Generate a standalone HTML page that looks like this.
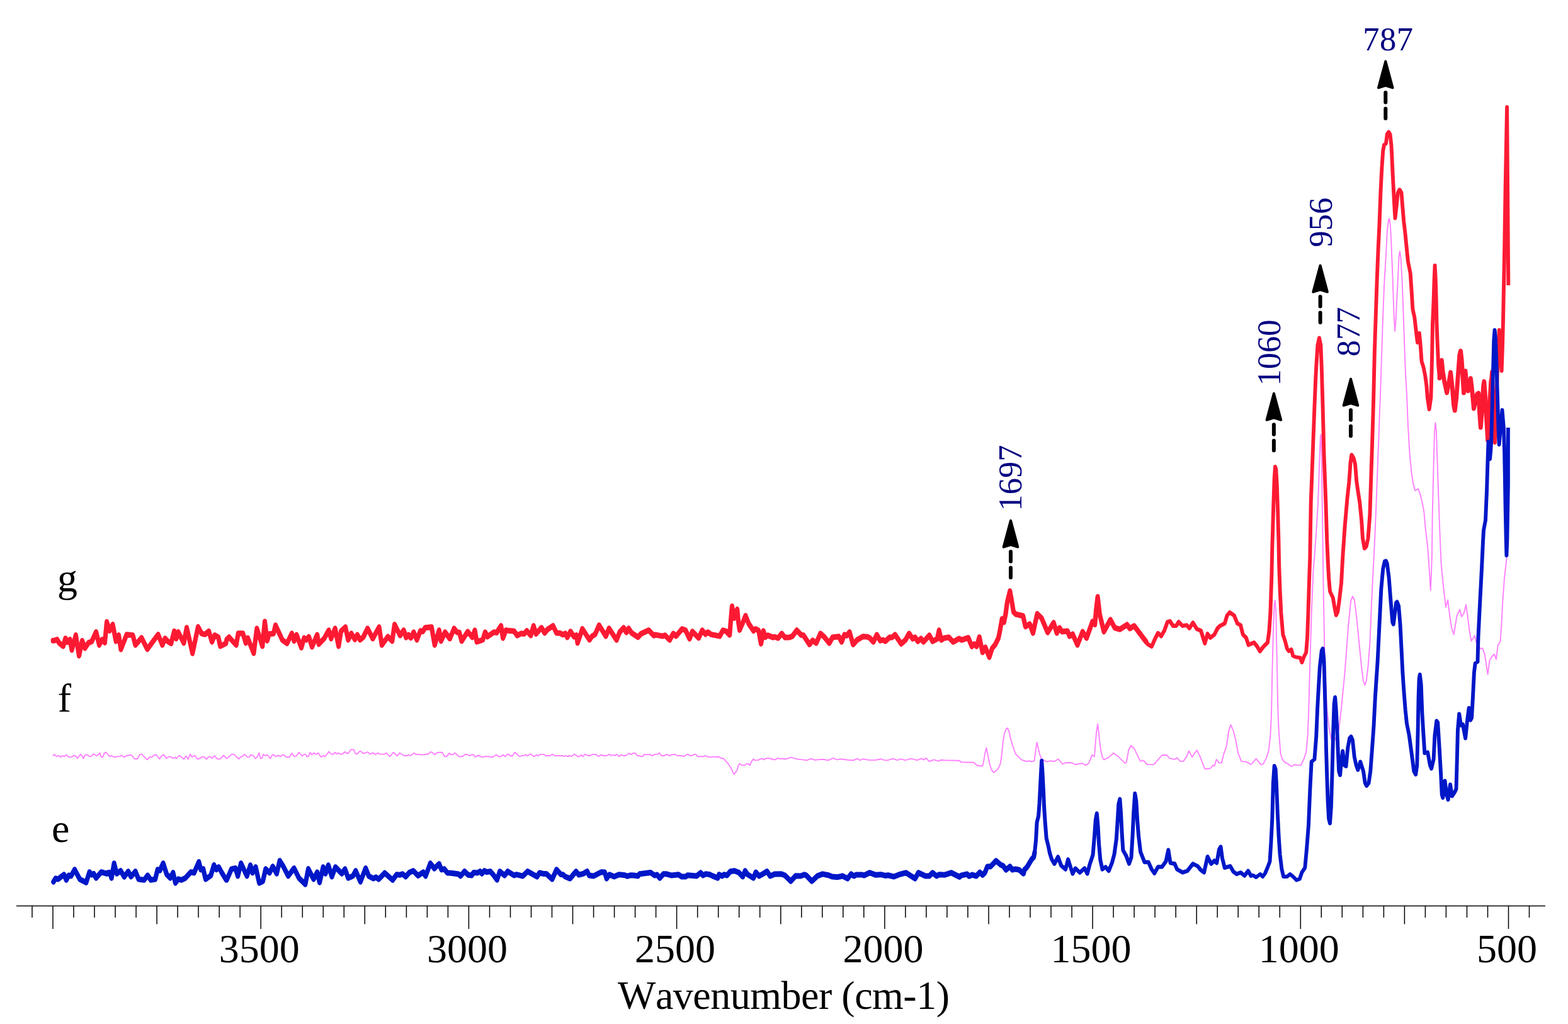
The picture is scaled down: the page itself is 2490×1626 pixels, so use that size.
<!DOCTYPE html>
<html lang="en">
<head>
<meta charset="utf-8">
<title>Wavenumber spectra e, f, g</title>
<style>
html,body{margin:0;padding:0;background:#fff;}
body{width:2490px;height:1626px;overflow:hidden;}
svg{display:block;}
text{font-family:"Liberation Serif","DejaVu Serif",serif;font-kerning:none;}
.t{font-size:64px;fill:#000;}
.n{font-size:52.5px;fill:#000080;}
.c{fill:none;stroke-linejoin:round;}
</style>
</head>
<body>
<svg width="2490" height="1626" viewBox="0 0 2490 1626">
<rect width="2490" height="1626" fill="#fff"/>
<line x1="26" y1="1438.5" x2="2454" y2="1438.5" stroke="#000" stroke-width="1.3"/>
<path d="M51.0 1438.5v18.5M84.0 1438.5v36.5M117.0 1438.5v18.5M150.0 1438.5v18.5M183.1 1438.5v18.5M216.1 1438.5v18.5M249.1 1438.5v29.0M282.1 1438.5v18.5M315.1 1438.5v18.5M348.2 1438.5v18.5M381.2 1438.5v18.5M414.2 1438.5v36.5M447.2 1438.5v18.5M480.3 1438.5v18.5M513.3 1438.5v18.5M546.3 1438.5v18.5M579.3 1438.5v29.0M612.3 1438.5v18.5M645.4 1438.5v18.5M678.4 1438.5v18.5M711.4 1438.5v18.5M744.4 1438.5v36.5M777.5 1438.5v18.5M810.5 1438.5v18.5M843.5 1438.5v18.5M876.5 1438.5v18.5M909.5 1438.5v29.0M942.6 1438.5v18.5M975.6 1438.5v18.5M1008.6 1438.5v18.5M1041.6 1438.5v18.5M1074.6 1438.5v36.5M1107.7 1438.5v18.5M1140.7 1438.5v18.5M1173.7 1438.5v18.5M1206.7 1438.5v18.5M1239.8 1438.5v29.0M1272.8 1438.5v18.5M1305.8 1438.5v18.5M1338.8 1438.5v18.5M1371.8 1438.5v18.5M1404.9 1438.5v36.5M1437.9 1438.5v18.5M1470.9 1438.5v18.5M1503.9 1438.5v18.5M1536.9 1438.5v18.5M1570.0 1438.5v29.0M1603.0 1438.5v18.5M1636.0 1438.5v18.5M1669.0 1438.5v18.5M1702.1 1438.5v18.5M1735.1 1438.5v36.5M1768.1 1438.5v18.5M1801.1 1438.5v18.5M1834.1 1438.5v18.5M1867.2 1438.5v18.5M1900.2 1438.5v29.0M1933.2 1438.5v18.5M1966.2 1438.5v18.5M1999.2 1438.5v18.5M2032.3 1438.5v18.5M2065.3 1438.5v36.5M2098.3 1438.5v18.5M2131.3 1438.5v18.5M2164.4 1438.5v18.5M2197.4 1438.5v18.5M2230.4 1438.5v29.0M2263.4 1438.5v18.5M2296.4 1438.5v18.5M2329.5 1438.5v18.5M2362.5 1438.5v18.5M2395.5 1438.5v36.5M2428.5 1438.5v18.5" stroke="#000" stroke-width="1.5" fill="none"/>
<text class="t" x="411.7" y="1528.4" text-anchor="middle">3500</text>
<text class="t" x="741.9" y="1528.4" text-anchor="middle">3000</text>
<text class="t" x="1072.1" y="1528.4" text-anchor="middle">2500</text>
<text class="t" x="1402.4" y="1528.4" text-anchor="middle">2000</text>
<text class="t" x="1732.6" y="1528.4" text-anchor="middle">1500</text>
<text class="t" x="2062.8" y="1528.4" text-anchor="middle">1000</text>
<text class="t" x="2393.0" y="1528.4" text-anchor="middle">500</text>
<text class="t" id="xt" x="1244.5" y="1602.3" text-anchor="middle" textLength="527" lengthAdjust="spacing">Wavenumber (cm-1)</text>
<text class="t" x="91" y="939.3">g</text>
<text class="t" x="91.8" y="1129.7">f</text>
<text class="t" x="82" y="1336.9">e</text>
<polyline class="c" points="83.6,1200.2 86.4,1197.9 89.5,1201.1 93.3,1199.8 96.5,1202.3 99.6,1199.8 102.1,1201.4 105.3,1198.5 109.1,1202.1 114.1,1202.1 117.3,1199.5 119.8,1200.4 122.9,1204.2 128.0,1197.6 130.5,1200.4 132.4,1204.5 135.5,1198.5 138.7,1198.5 142.5,1201.4 145.0,1201.1 147.5,1197.6 150.0,1197.9 153.2,1200.2 155.7,1198.5 158.6,1195.6 160.8,1202.1 163.3,1202.1 165.8,1195.6 168.3,1194.5 170.8,1197.3 174.0,1201.1 177.1,1199.8 180.3,1202.1 184.1,1202.1 186.0,1201.1 191.0,1201.1 192.9,1199.5 197.3,1202.3 200.5,1200.0 203.6,1199.8 206.1,1198.5 209.9,1199.8 213.1,1204.8 218.1,1205.1 221.9,1197.9 225.0,1197.6 229.5,1202.3 233.9,1206.3 237.0,1202.3 241.4,1202.1 245.8,1198.5 249.0,1199.2 253.4,1205.2 256.6,1200.2 260.3,1198.5 264.1,1204.2 267.9,1201.4 271.7,1202.1 274.8,1204.2 278.0,1202.3 280.5,1204.5 284.3,1199.5 288.1,1202.1 292.1,1205.5 295.6,1200.4 298.8,1205.5 301.9,1197.6 305.1,1202.1 309.5,1199.5 313.3,1205.2 317.1,1204.5 320.9,1201.4 324.6,1202.1 327.8,1205.5 331.6,1201.4 334.1,1201.7 336.6,1204.2 340.8,1200.0 344.8,1205.1 349.8,1205.1 355.1,1199.5 359.9,1204.5 360.0,1204.2 364.4,1201.1 368.2,1197.6 372.0,1197.9 375.1,1201.7 379.5,1205.2 382.1,1201.7 385.2,1201.1 388.4,1197.6 392.8,1202.1 395.9,1202.1 397.8,1198.5 402.2,1199.8 405.4,1204.5 408.5,1201.7 411.4,1195.6 413.6,1204.2 416.1,1204.0 418.2,1197.9 421.8,1200.2 424.3,1198.5 429.1,1204.5 432.5,1198.5 435.0,1198.5 437.5,1201.3 440.7,1199.8 443.8,1200.0 445.7,1201.3 448.9,1198.5 450.8,1198.5 454.5,1202.3 459.6,1202.3 463.4,1196.0 466.9,1201.3 470.9,1200.2 474.5,1194.7 479.8,1200.4 482.9,1197.9 485.4,1197.9 487.3,1201.3 489.8,1201.1 492.4,1194.7 495.1,1198.2 498.7,1195.6 501.8,1197.9 505.0,1195.6 510.0,1202.3 513.5,1199.8 515.7,1201.4 520.1,1196.6 522.0,1193.5 524.5,1196.0 528.3,1198.3 532.4,1194.7 534.6,1197.3 537.1,1195.6 540.3,1197.6 544.0,1197.3 547.8,1193.7 550.3,1196.0 553.5,1196.0 557.3,1190.1 561.7,1190.1 564.2,1196.6 567.4,1197.3 571.1,1192.9 573.0,1192.9 576.2,1196.0 579.3,1196.0 583.7,1194.1 587.5,1197.3 590.7,1195.6 593.8,1196.0 596.4,1198.3 600.1,1195.6 603.3,1197.6 610.9,1197.6 613.6,1195.6 619.0,1201.3 624.7,1194.7 631.0,1200.2 634.8,1195.6 638.0,1197.9 642.4,1200.0 646.8,1200.0 648.7,1198.5 650.0,1199.2 652.5,1199.8 657.8,1195.6 660.7,1198.3 665.1,1197.6 667.6,1198.5 673.3,1198.3 680.3,1197.3 684.0,1193.7 687.8,1196.0 690.3,1198.3 694.1,1195.1 697.3,1194.7 702.3,1194.7 706.1,1201.3 709.2,1201.1 713.7,1196.0 716.2,1198.3 719.3,1198.3 722.5,1195.6 728.8,1201.3 734.5,1201.3 738.9,1197.6 742.7,1198.3 745.8,1200.2 749.0,1198.3 752.1,1198.5 754.6,1202.1 758.4,1199.8 761.6,1200.0 764.1,1202.1 767.2,1202.1 769.1,1201.3 776.7,1201.3 779.8,1202.3 782.4,1202.1 788.0,1198.5 791.2,1201.3 795.6,1201.3 798.7,1198.5 802.5,1201.4 805.7,1197.6 808.6,1197.9 809.5,1200.2 813.9,1200.2 817.4,1194.5 820.8,1197.3 825.2,1201.4 828.4,1200.0 832.2,1199.8 834.7,1198.3 837.8,1200.4 841.6,1197.6 844.1,1197.9 847.9,1201.4 852.3,1198.5 854.8,1200.4 858.0,1197.6 864.3,1198.3 866.2,1200.0 873.7,1200.0 876.9,1197.6 881.3,1200.0 893.9,1200.0 895.8,1201.3 898.3,1199.8 900.9,1201.3 904.0,1200.0 907.8,1201.1 912.2,1197.6 917.2,1201.3 920.4,1201.1 922.9,1198.5 925.4,1201.3 929.2,1197.6 933.6,1200.0 937.4,1200.0 939.9,1198.3 940.0,1198.3 946.3,1197.9 950.7,1201.3 954.5,1198.5 958.3,1200.0 963.3,1200.0 967.7,1197.6 970.9,1200.0 974.0,1198.5 976.6,1200.0 979.3,1197.6 983.5,1201.3 986.6,1198.5 989.8,1200.0 993.6,1200.0 999.2,1196.0 1001.8,1198.3 1006.2,1195.6 1008.7,1196.0 1012.5,1200.0 1015.6,1200.0 1017.5,1201.3 1020.7,1201.1 1022.6,1198.3 1033.3,1198.3 1035.8,1200.2 1040.2,1197.6 1044.0,1197.9 1047.1,1195.6 1050.3,1200.0 1054.7,1200.0 1057.2,1198.3 1061.0,1198.5 1063.5,1200.2 1066.7,1198.5 1071.7,1197.9 1075.5,1200.0 1083.1,1200.0 1085.6,1201.4 1088.7,1199.2 1092.3,1197.6 1095.7,1200.0 1099.5,1199.8 1102.6,1197.6 1105.1,1197.9 1108.3,1201.3 1117.7,1201.3 1120.0,1199.8 1122.2,1201.3 1126.6,1202.1 1129.7,1202.1 1132.2,1201.4 1135.4,1202.1 1139.2,1201.7 1142.3,1202.1 1145.5,1204.2 1148.6,1204.2 1151.8,1207.7 1155.6,1211.8 1158.7,1216.2 1161.9,1221.6 1164.4,1227.5 1165.6,1229.4 1168.2,1226.3 1170.7,1222.5 1172.6,1215.5 1174.5,1212.4 1177.6,1214.9 1183.3,1214.9 1185.8,1212.6 1187.7,1212.6 1190.9,1215.3 1193.4,1209.2 1196.5,1205.2 1198.4,1207.1 1203.5,1207.1 1207.9,1204.8 1211.0,1204.8 1212.9,1206.3 1216.7,1204.2 1221.1,1204.0 1223.6,1205.1 1226.1,1204.8 1228.0,1206.3 1231.8,1206.1 1234.3,1204.0 1238.1,1204.8 1239.9,1204.8 1248.6,1205.2 1256.2,1202.6 1265.0,1205.2 1271.3,1205.9 1281.4,1207.2 1289.0,1204.7 1292.8,1206.7 1306.6,1205.7 1315.5,1207.2 1323.0,1203.9 1329.3,1206.4 1334.4,1205.2 1347.0,1206.7 1355.8,1207.2 1360.9,1204.7 1365.9,1207.2 1370.9,1205.2 1379.8,1206.9 1391.1,1206.7 1398.7,1205.2 1403.7,1206.9 1410.0,1207.2 1417.6,1204.7 1425.2,1207.2 1430.2,1205.2 1437.8,1207.2 1446.6,1204.7 1456.7,1207.2 1463.0,1204.4 1466.8,1206.4 1470.6,1203.9 1475.6,1209.0 1483.2,1206.4 1490.7,1208.7 1494.5,1206.7 1500.8,1207.2 1523.5,1207.7 1526.1,1210.2 1546.2,1210.7 1551.3,1215.3 1560.1,1216.5 1561.9,1210.2 1564.4,1195.1 1566.4,1187.5 1568.4,1197.6 1571.5,1212.7 1574.7,1222.8 1577.8,1226.6 1581.5,1224.1 1585.3,1220.3 1588.6,1212.7 1590.9,1197.6 1592.9,1177.4 1594.7,1166.1 1597.2,1158.5 1599.7,1156.0 1602.2,1161.0 1604.2,1169.9 1606.8,1179.9 1609.3,1187.5 1612.3,1196.3 1614.8,1199.4 1618.1,1202.6 1621.9,1206.4 1629.5,1209.0 1635.8,1208.2 1637.0,1209.7 1642.6,1208.2 1644.6,1192.6 1646.6,1178.7 1648.6,1187.5 1650.9,1197.6 1653.4,1203.9 1655.9,1206.4 1662.2,1209.7 1668.5,1208.2 1674.9,1209.0 1680.4,1205.2 1683.7,1209.0 1687.5,1213.2 1691.2,1211.5 1697.6,1210.7 1702.6,1211.5 1707.6,1214.0 1713.9,1212.7 1719.0,1212.2 1724.1,1215.2 1729.2,1211.4 1734.2,1198.8 1738.0,1201.3 1739.5,1181.1 1741.0,1163.5 1743.1,1149.6 1744.6,1161.0 1746.1,1176.1 1748.1,1191.2 1750.6,1202.6 1753.1,1206.4 1760.7,1202.6 1768.3,1195.8 1775.8,1201.3 1785.9,1211.4 1788.4,1211.4 1790.5,1201.3 1792.2,1191.2 1796.0,1183.7 1801.1,1188.7 1806.1,1198.8 1811.1,1208.9 1816.2,1207.6 1821.2,1213.9 1832.6,1213.9 1838.9,1206.4 1845.2,1199.3 1852.8,1198.8 1856.5,1203.8 1865.4,1205.9 1869.2,1203.3 1874.2,1208.9 1879.2,1208.9 1884.3,1201.3 1888.1,1192.5 1893.1,1202.1 1896.9,1196.3 1900.7,1191.2 1905.7,1201.3 1909.5,1211.4 1913.3,1221.0 1922.1,1220.2 1925.9,1215.2 1928.4,1216.5 1931.7,1205.9 1936.0,1211.4 1939.8,1211.4 1943.6,1196.3 1947.3,1186.2 1949.4,1173.6 1951.1,1161.0 1954.4,1150.9 1958.7,1161.0 1962.5,1176.1 1966.3,1196.3 1971.3,1208.9 1978.9,1209.6 1986.4,1213.9 1990.0,1210.4 1994.7,1204.7 1998.5,1209.4 2002.3,1214.2 2006.1,1213.2 2010.8,1203.8 2014.6,1192.4 2017.4,1167.8 2019.0,1135.0 2020.3,1068.0 2022.2,992.4 2023.7,958.4 2025.0,953.5 2026.3,973.5 2027.8,1049.1 2029.3,1124.8 2030.7,1160.0 2033.5,1196.2 2036.3,1205.7 2040.1,1210.4 2045.8,1213.2 2050.5,1217.0 2055.3,1214.2 2060.9,1215.1 2065.7,1215.1 2070.4,1205.7 2074.2,1194.3 2076.6,1167.8 2078.2,1130.0 2079.8,1068.0 2082.7,973.5 2085.5,905.0 2087.4,884.0 2090.2,845.0 2093.1,798.0 2095.0,741.0 2096.9,692.0 2097.6,690.0 2098.6,720.0 2100.6,860.0 2101.6,935.7 2103.1,1020.8 2105.0,1080.0 2107.3,1127.0 2110.1,1152.7 2113.9,1173.5 2118.0,1178.0 2122.0,1170.0 2126.2,1158.0 2130.0,1124.8 2135.6,1068.0 2141.3,992.4 2145.1,954.6 2147.9,947.0 2150.8,952.7 2154.6,983.0 2158.3,1020.8 2162.1,1058.6 2165.0,1081.3 2167.4,1087.9 2169.7,1081.3 2172.5,1058.6 2175.4,1020.8 2178.2,954.6 2181.0,897.8 2182.5,870.0 2184.8,817.0 2187.7,741.3 2190.5,665.7 2192.4,615.0 2194.3,557.0 2196.2,500.2 2198.1,452.9 2200.9,405.7 2202.8,367.8 2204.7,350.8 2206.2,347.0 2207.9,358.4 2209.4,386.7 2210.9,424.6 2212.3,462.4 2213.6,500.2 2215.1,525.8 2216.6,509.7 2217.9,481.3 2219.8,443.5 2221.7,405.7 2223.0,399.0 2224.5,409.4 2226.4,443.5 2228.0,481.3 2229.3,519.1 2230.6,557.0 2232.1,594.8 2234.0,627.8 2235.9,675.1 2238.7,722.4 2241.6,750.8 2244.4,769.7 2247.2,779.1 2252.0,776.3 2254.8,782.9 2258.6,798.1 2261.4,813.2 2263.3,835.9 2266.1,858.6 2268.0,878.9 2269.9,907.3 2271.8,937.5 2273.1,907.3 2274.0,880.0 2274.7,817.0 2276.5,741.3 2278.1,684.6 2279.4,671.3 2280.9,684.6 2282.8,741.3 2284.7,798.1 2286.6,850.0 2288.8,897.8 2292.6,935.7 2296.0,964.0 2299.2,952.7 2302.1,977.3 2304.9,996.2 2308.7,1007.5 2311.5,990.5 2313.4,978.2 2318.2,967.8 2321.0,979.2 2324.8,973.5 2328.0,960.2 2330.5,977.3 2333.3,1000.0 2336.5,1017.9 2341.8,1009.4 2344.6,1020.8 2351.3,1030.2 2354.1,1029.3 2357.9,1039.7 2360.7,1058.6 2362.6,1070.9 2365.4,1049.1 2369.2,1042.5 2373.0,1038.7 2375.9,1047.2 2378.7,1024.5 2382.5,1018.9 2384.4,992.4 2386.3,954.6 2389.1,916.7 2392.9,884.6" stroke="#ff80ff" stroke-width="1.9"/>
<polyline class="c" transform="scale(1 1.250)" points="84.2,813.88 85.8,813.81 90.8,812.44 94.0,816.84 100.3,820.87 104.0,810.93 106.6,815.83 111.0,812.44 114.1,825.71 120.4,806.90 125.5,832.97 130.5,813.95 134.9,823.39 140.6,816.48 145.6,814.96 152.6,802.86 157.6,819.36 162.0,812.44 166.4,816.33 169.6,790.05 174.0,801.21 179.0,793.28 184.1,814.52 188.5,806.90 192.0,824.91 201.1,806.09 210.9,806.90 215.0,819.36 224.8,810.22 233.9,824.71 244.6,812.95 251.1,806.09 257.8,819.36 262.2,810.93 266.6,814.82 271.7,817.34 276.7,801.85 279.9,811.29 283.0,802.86 291.9,816.84 296.5,797.32 305.7,829.95 314.5,796.31 320.2,804.88 325.9,805.82 331.6,801.85 336.6,815.33 341.0,806.90 346.7,809.42 349.8,820.87 358.7,817.34 360.0,812.37 363.8,809.42 367.6,812.81 375.1,819.36 378.3,804.68 385.8,804.68 390.3,816.84 393.4,810.43 402.9,829.75 407.9,798.32 416.7,820.87 420.5,789.55 424.3,813.81 427.4,805.38 434.4,804.88 437.5,794.29 448.2,812.81 455.8,817.34 463.4,804.68 467.1,814.32 470.9,806.39 478.5,822.69 482.9,810.43 486.1,812.81 490.5,808.91 495.5,821.68 503.7,806.39 506.2,818.35 515.0,810.86 522.0,800.64 525.8,811.29 532.1,798.32 537.7,820.87 541.5,801.85 548.5,796.61 552.9,812.81 557.9,804.68 563.6,812.30 567.4,806.39 571.8,812.81 576.8,809.42 583.7,798.32 591.9,811.29 602.0,796.61 606.4,819.36 615.9,808.71 622.8,814.32 626.6,793.28 635.4,807.26 641.1,800.64 644.9,809.78 648.7,806.39 650.0,808.34 652.5,810.28 656.9,803.06 662.0,812.81 667.6,801.35 671.4,802.22 675.2,797.32 685.3,796.61 690.3,819.36 697.3,800.64 700.4,814.32 706.7,803.06 714.3,811.29 721.2,798.32 725.6,803.23 729.4,803.37 733.2,814.32 742.7,802.36 750.2,809.58 754.0,800.64 757.1,815.33 766.6,812.81 770.4,803.06 774.2,808.77 784.2,803.06 788.7,803.73 795.6,795.00 798.7,810.59 803.2,800.64 808.8,801.28 816.4,801.85 821.4,807.26 827.7,804.68 832.2,805.24 836.6,801.35 842.9,807.26 847.3,795.00 851.1,805.24 859.9,797.32 864.9,804.03 869.3,799.84 878.2,795.00 883.8,804.03 889.5,804.30 893.9,806.25 897.7,804.68 900.9,809.58 905.9,802.16 911.6,808.77 915.3,806.90 917.2,816.84 924.8,798.83 936.1,812.81 940.0,808.47 945.0,805.88 951.3,794.22 962.1,808.10 967.1,798.26 979.1,812.94 984.1,803.00 990.4,797.45 994.8,803.36 998.2,798.26 1003.0,804.07 1013.1,809.41 1018.2,805.01 1030.1,800.68 1038.3,807.39 1040.2,806.32 1052.2,808.10 1056.0,807.03 1063.5,812.94 1069.2,804.71 1073.6,808.10 1083.1,798.96 1088.7,800.68 1095.0,811.43 1099.5,802.29 1109.5,810.42 1115.2,800.68 1120.3,805.68 1124.0,803.00 1129.1,805.88 1142.9,808.10 1148.0,800.68 1153.0,801.85 1158.7,806.59 1160.6,787.30 1162.5,770.22 1165.6,785.21 1170.7,774.05 1172.6,790.32 1174.5,800.33 1178.9,792.34 1183.9,782.12 1189.0,792.34 1196.5,801.34 1199.7,798.96 1204.7,800.98 1208.5,817.78 1212.3,801.48 1215.4,809.41 1219.2,807.03 1227.4,809.71 1230.0,808.98 1235.7,810.62 1241.3,804.71 1246.4,809.71 1254.0,809.55 1258.4,808.10 1265.3,800.68 1272.2,806.59 1276.0,807.03 1285.5,818.69 1290.5,813.59 1296.2,816.97 1302.9,804.71 1309.4,809.55 1317.0,816.97 1322.0,809.55 1332.1,808.54 1336.5,815.46 1340.9,806.32 1344.7,807.39 1349.1,803.00 1354.8,818.69 1361.1,812.94 1370.6,808.54 1377.5,808.91 1381.3,810.56 1386.9,815.46 1392.4,806.32 1397.7,813.75 1402.1,812.88 1405.8,814.65 1412.8,809.55 1416.6,809.71 1421.4,806.32 1431.1,817.78 1438.0,812.94 1443.7,804.71 1449.3,811.43 1453.1,809.55 1457.5,814.65 1462.6,811.06 1466.4,815.46 1475.8,807.03 1480.9,814.65 1488.4,811.43 1491.2,800.68 1494.7,812.94 1499.1,810.56 1506.7,809.55 1513.6,815.46 1523.2,811.17 1526.9,813.04 1537.6,810.16 1543.3,821.11 1547.1,818.22 1550.9,821.11 1555.3,809.35 1560.3,828.67 1564.7,822.26 1571.1,834.72 1575.5,823.70 1580.5,818.66 1585.5,810.59 1588.1,800.51 1591.2,786.16 1594.4,790.35 1596.9,780.34 1599.4,765.21 1603.8,750.86 1607.0,765.21 1609.5,777.31 1613.3,780.34 1624.6,782.43 1628.4,795.90 1635.3,792.71 1640.4,804.17 1647.1,779.70 1654.2,785.45 1663.7,803.46 1673.2,791.00 1678.2,804.17 1682.6,797.55 1686.4,802.45 1695.2,801.59 1698.4,808.20 1703.4,805.62 1711.0,819.29 1719.2,802.39 1725.5,810.52 1734.9,789.48 1738.7,793.38 1740.6,775.30 1743.1,758.22 1746.3,780.34 1753.0,802.45 1763.3,787.16 1770.2,797.41 1778.4,799.43 1789.8,793.52 1794.2,798.42 1801.1,795.03 1809.9,804.54 1819.9,815.06" stroke="#fc1a33" stroke-width="7.20" stroke-linecap="round"/>
<polyline class="c" transform="scale(1 1.080)" points="1819.9,943.36 1822.5,947.06 1828.8,950.56 1833.8,940.05 1838.9,930.71 1843.9,935.38 1849.0,927.21 1854.0,914.37 1857.8,913.20 1862.8,920.20 1867.9,920.20 1871.7,914.37 1878.0,920.20 1884.3,919.04 1888.8,923.71 1894.4,915.53 1900.7,924.88 1907.0,927.21 1913.3,945.89 1917.6,931.88 1922.1,937.72 1928.4,933.05 1933.5,923.71 1937.3,920.20 1944.8,916.70 1948.6,905.03 1952.9,900.35 1959.9,905.03 1965.0,916.70 1970.0,919.04 1973.8,933.05 1978.9,937.72 1982.6,948.23 1991.5,944.72 1996.5,950.56 2000.8,957.57 2006.6,950.56 2012.9,944.72 2015.4,928.38" stroke="#fc1a33" stroke-width="6.00" stroke-linecap="round"/>
<polyline class="c" points="2015.4,1002.65 2017.4,973.50 2019.3,916.70 2020.3,870.00 2021.3,836.00 2022.4,798.00 2023.7,760.00 2025.0,741.00 2026.3,745.00 2027.8,770.00 2029.3,817.00 2030.5,860.00 2031.2,898.00 2032.6,936.00 2034.4,973.50 2037.3,1007.50 2041.1,1019.00 2043.9,1030.00 2046.7,1034.00 2050.5,1031.00 2053.4,1041.60 2058.1,1043.50 2064.7,1044.40 2067.5,1052.00 2070.4,1043.50 2074.2,1036.00 2076.1,1011.00 2077.4,973.50 2078.9,926.00 2080.3,884.00 2081.7,798.00 2084.6,722.00 2087.4,647.00 2089.3,600.00 2090.6,576.00 2092.5,548.00 2095.0,536.50 2097.4,548.00 2098.8,585.00 2100.6,647.00 2102.5,722.00 2105.4,798.00 2107.3,860.00 2108.6,888.00 2110.1,917.00 2112.0,939.00 2116.7,949.00 2119.6,966.00 2121.8,977.00 2124.3,971.60 2127.1,951.00 2130.0,926.00 2132.3,884.00 2135.6,836.00 2139.6,790.00 2142.4,765.00 2143.5,750.00 2144.5,735.00 2146.4,722.00 2149.5,727.00 2152.0,737.00 2153.1,750.00 2154.3,765.00 2156.5,780.00 2159.3,798.00 2162.1,826.00 2164.0,855.00 2166.8,871.00 2169.7,868.00 2172.5,855.00 2175.4,817.00 2177.2,760.00 2179.1,703.50 2181.0,640.00 2182.9,557.00 2184.8,500.00 2186.7,443.50 2188.6,396.00 2190.5,356.00 2192.4,306.00 2194.3,268.00 2196.2,240.00 2198.0,230.00 2200.9,228.00 2202.8,213.00 2205.2,209.50 2207.5,213.00 2209.4,230.00 2210.4,249.00 2211.7,277.50 2213.2,306.00 2214.7,334.00 2215.5,346.50 2217.9,325.00 2219.8,306.00 2222.6,301.00 2225.5,306.00 2227.4,330.00 2229.3,352.00 2231.2,368.00 2234.0,396.00 2235.9,415.00 2239.7,434.00 2241.6,462.00 2243.4,491.00 2246.3,504.00 2249.1,529.00 2251.0,544.00 2253.9,529.00 2255.7,548.00 2257.6,574.00 2260.5,583.00 2263.3,597.00 2265.3,612.00 2266.8,631.00 2269.6,650.00 2272.4,631.00 2273.5,590.00 2274.2,560.00 2275.0,514.00 2276.5,480.00 2277.6,445.00 2278.6,421.50 2279.8,445.00 2280.8,480.00 2281.5,514.00 2282.7,545.00 2284.2,580.00 2286.0,600.50" stroke="#fc1a33" stroke-width="5.90" stroke-linecap="butt"/>
<polyline class="c" points="2286.0,600.50 2289.4,572.00 2291.0,589.00 2293.6,605.50 2297.7,624.00 2301.1,605.50 2303.6,591.00 2306.1,614.00 2308.6,644.00 2310.3,652.00 2312.8,631.00 2315.3,597.00 2317.8,564.00 2319.5,557.00 2321.2,572.00 2322.8,597.00 2324.5,624.00 2327.0,589.00 2329.5,614.00 2331.2,621.00 2335.4,600.50 2337.9,622.00 2340.4,649.00 2342.9,639.00 2345.4,626.00 2347.9,624.00 2349.6,656.00 2351.3,679.00 2353.8,647.00 2355.5,614.00 2356.8,605.50 2358.8,631.00 2360.5,664.00 2362.6,699.00 2364.8,664.00 2366.3,630.00 2367.8,605.00" stroke="#fc1a33" stroke-width="6.80" stroke-linecap="round"/>
<polyline class="c" points="2367.8,605.00 2369.2,590.00 2370.6,612.00 2372.3,665.00 2373.9,703.00 2376.0,640.00 2378.5,575.00 2380.8,524.00 2382.8,560.00 2384.6,589.00 2385.8,555.00 2386.9,514.00 2387.8,464.00 2388.7,422.00 2389.4,380.00 2390.6,300.00 2393.1,170.00 2395.3,453.00" stroke="#fc1a33" stroke-width="5.90" stroke-linecap="butt"/>
<polyline class="c" transform="scale(1 1.250)" points="84.9,1120.17 88.3,1115.80 92.1,1116.87 101.5,1110.96 105.3,1117.88 109.1,1111.97 112.9,1112.84 118.5,1104.61 126.7,1116.87 136.8,1121.11 142.1,1107.74 145.6,1111.33 148.8,1109.95 152.6,1115.36 160.8,1107.74 169.6,1109.95 170.8,1108.81 174.0,1108.44 177.1,1115.36 181.2,1096.64 185.3,1109.81 191.6,1106.22 197.3,1113.85 203.6,1106.93 208.0,1113.65 215.0,1106.93 220.0,1116.87 228.8,1117.88 234.5,1111.97 239.5,1117.88 246.5,1116.87 250.3,1104.61 254.0,1105.78 259.1,1096.64 264.8,1110.82 270.4,1115.36 274.8,1108.44 278.6,1121.71 283.0,1116.71 288.1,1117.88 294.4,1115.36 303.2,1107.74 308.2,1108.81 315.8,1094.83 319.0,1104.77 322.7,1103.90 326.5,1116.87 334.7,1112.33 339.8,1098.86 343.5,1104.77 347.3,1101.38 352.4,1108.81 359.3,1117.88 360.0,1117.88 367.6,1103.90 373.9,1102.90 377.6,1112.84 382.7,1096.64 392.1,1112.84 397.6,1099.06 401.0,1108.81 406.0,1101.38 411.7,1121.71 417.4,1119.39 421.8,1103.90 428.1,1108.81 433.1,1100.68 439.4,1109.81 444.2,1093.32 450.1,1100.88 457.7,1112.84 466.9,1102.90 474.7,1115.36 484.8,1123.43 489.6,1103.70 498.0,1116.87 503.7,1107.94 507.5,1120.91 513.2,1101.38 516.9,1109.81 521.4,1099.06 527.0,1113.65 532.7,1101.38 542.8,1109.81 547.8,1103.90 552.9,1115.36 560.4,1112.84 564.8,1106.22 572.4,1120.10 580.6,1102.90 585.6,1112.84 593.2,1116.07 597.0,1114.19 601.4,1116.87 610.9,1108.95 623.5,1117.88 629.8,1110.96 635.4,1111.33 639.2,1110.26 644.3,1113.65 650.0,1108.37 656.3,1106.22 663.9,1112.33 672.1,1107.94 675.8,1112.84 683.4,1096.64 689.7,1103.26 697.3,1097.35 701.1,1104.77 705.5,1103.90 710.5,1108.81 715.5,1108.95 723.1,1109.81 728.2,1110.46 731.3,1112.84 737.6,1106.93 743.3,1111.33 749.0,1112.03 752.1,1108.44 758.4,1108.81 762.2,1106.93 765.3,1109.81 769.1,1106.22 772.9,1107.80 778.6,1106.93 783.0,1110.82 789.3,1117.68 793.7,1106.93 801.3,1112.03 806.3,1106.93 816.4,1112.03 820.2,1110.96 830.3,1112.84 837.8,1106.93 852.9,1113.65 856.7,1108.74 861.8,1109.81 868.1,1110.26 876.9,1116.87 883.8,1104.61 890.8,1110.82 893.9,1110.96 897.7,1113.65 905.3,1116.07 914.7,1106.93 919.1,1111.33 926.1,1109.95 932.4,1106.93 935.5,1112.03 942.5,1112.84 955.1,1107.74 960.2,1107.94 963.3,1116.07 967.7,1110.96 975.3,1113.65 982.9,1110.96 987.9,1111.33 992.3,1111.77 996.1,1113.04 1001.8,1111.77 1006.2,1112.03 1013.1,1112.84 1015.6,1110.26 1033.3,1108.44 1039.6,1112.03 1043.4,1111.16 1047.8,1115.36 1053.5,1110.26 1058.5,1110.26 1066.7,1112.03 1077.4,1110.96 1082.4,1113.65 1088.7,1113.65 1091.9,1111.77 1106.4,1112.84 1112.7,1108.64 1116.5,1112.03 1120.3,1110.26 1126.6,1110.82 1131.6,1112.68 1139.8,1115.36 1141.7,1110.96 1146.7,1112.84 1149.9,1110.96 1154.3,1112.03 1160.0,1106.93 1166.3,1106.22 1173.2,1108.44 1179.5,1113.65 1183.3,1106.22 1187.1,1110.82 1196.5,1115.36 1200.3,1107.94 1205.3,1112.84 1209.8,1110.96 1218.0,1106.93 1223.0,1112.84 1228.7,1110.96 1230.0,1110.39 1240.7,1110.26 1246.4,1112.03 1255.8,1119.39 1263.4,1112.68 1271.6,1112.84 1277.3,1110.96 1280.4,1112.03 1289.2,1119.39 1298.1,1112.68 1306.3,1110.26 1315.7,1111.77 1321.4,1113.65 1329.6,1114.19 1333.4,1113.65 1337.8,1112.68 1346.0,1116.07 1351.6,1110.26 1356.1,1112.84 1359.8,1111.16 1368.0,1111.16 1372.4,1112.03 1381.0,1108.64 1390.1,1111.33 1398.9,1110.96 1405.8,1112.33 1410.3,1111.77 1419.7,1113.65 1427.9,1110.96 1438.6,1108.64 1453.1,1116.07 1458.4,1108.64 1469.5,1112.84 1475.8,1112.84 1480.9,1108.64 1487.2,1112.84 1491.6,1110.96 1500.4,1111.33 1510.5,1108.64 1523.8,1113.98 1526.3,1112.11 1535.8,1110.39 1538.9,1112.97 1544.0,1111.30 1550.3,1112.97 1555.9,1108.07 1560.3,1111.46 1564.1,1108.51 1567.9,1100.71 1572.9,1100.87 1581.8,1093.45 1588.7,1098.35 1593.1,1100.01 1597.5,1104.91 1603.8,1100.71 1607.6,1104.91 1612.0,1104.04 1618.3,1104.91 1625.3,1109.75 1627.1,1104.47 1629.0,1103.23 1632.2,1099.86 1634.7,1096.41 1638.5,1091.43 1641.6,1088.77 1642.9,1083.30" stroke="#0017c8" stroke-width="7.20" stroke-linecap="round"/>
<polyline class="c" transform="scale(1 1.080)" points="1642.9,1253.81 1643.3,1251.23 1645.1,1234.88 1646.6,1209.19 1649.1,1199.85 1650.6,1181.17 1651.9,1157.82 1653.2,1134.46 1654.2,1118.58 1655.4,1134.46 1656.7,1157.82 1658.2,1188.17 1659.7,1209.19 1661.7,1232.54 1664.8,1244.22 1666.9,1253.81 1670.0,1263.15 1674.4,1270.07 1680.1,1259.73 1685.1,1272.41 1692.1,1278.24 1696.1,1263.47 1703.4,1284.66 1707.8,1276.66 1714.8,1282.91 1722.3,1276.66 1726.7,1284.66 1730.4,1271.13 1735.5,1257.12 1738.0,1229.10 1739.8,1205.75 1741.8,1195.94 1743.6,1215.09 1745.1,1240.78 1747.3,1264.13 1750.6,1278.14 1755.7,1274.64 1760.7,1280.47 1765.8,1268.80 1769.5,1255.95 1772.8,1233.77 1774.8,1205.75 1776.3,1182.39 1778.4,1174.92 1780.1,1196.41 1781.6,1224.43 1783.4,1250.12 1788.4,1258.29 1793.0,1269.97 1796.5,1260.63 1798.5,1229.10 1800.3,1194.07 1802.3,1166.75 1804.3,1177.72 1806.1,1205.75 1808.1,1229.10 1811.1,1252.45 1817.5,1267.63 1823.8,1267.63 1828.8,1278.14 1833.3,1283.98 1838.9,1274.64 1845.2,1274.64 1851.5,1266.46 1855.3,1249.65 1858.6,1268.80 1865.4,1269.97 1869.2,1278.14 1878.0,1282.81 1885.5,1280.47 1894.4,1269.97 1901.9,1273.47 1907.0,1279.31 1912.0,1282.81 1917.6,1259.46 1923.4,1269.97 1928.4,1265.30 1932.2,1268.80 1936.0,1248.95 1938.5,1244.98 1941.0,1261.79 1944.8,1275.80 1953.6,1273.47 1958.7,1281.64 1963.7,1285.15 1970.0,1282.81 1976.3,1287.48 1982.1,1280.47 1986.4,1287.48" stroke="#0017c8" stroke-width="6.00" stroke-linecap="round"/>
<polyline class="c" points="1986.4,1390.48 1990.0,1390.00 1994.7,1393.00 2001.3,1388.00 2005.1,1392.00 2008.9,1387.00 2012.7,1378.00 2016.5,1368.00 2018.4,1338.00 2020.3,1300.00 2021.8,1243.50 2023.7,1216.00 2025.6,1221.00 2026.9,1243.50 2028.8,1291.00 2030.7,1329.00 2032.6,1357.00 2035.4,1380.00 2038.2,1392.00 2043.9,1392.00 2048.6,1388.00 2053.4,1392.00 2059.0,1397.60 2063.8,1395.70 2067.5,1385.00 2072.3,1378.00 2075.1,1347.50 2078.0,1310.00 2080.4,1253.00 2082.7,1209.40 2087.4,1205.70 2090.2,1170.00 2092.1,1125.00 2094.0,1090.00 2095.9,1058.60 2098.8,1033.00 2100.6,1029.50 2102.5,1049.00 2103.8,1096.00 2104.9,1140.00 2106.0,1190.00 2107.3,1235.00 2108.6,1272.00 2110.1,1300.00 2112.0,1307.60 2113.9,1281.00 2115.6,1224.60 2117.2,1160.00 2118.6,1118.00 2120.1,1107.00 2121.6,1124.80 2123.2,1155.00 2124.5,1187.00 2126.2,1224.60 2128.1,1231.00 2130.3,1206.00 2132.2,1192.40 2134.7,1215.00 2137.5,1217.00 2140.4,1187.00 2143.2,1172.00 2145.5,1169.50 2147.9,1175.00 2150.8,1202.00 2153.6,1215.00 2156.4,1222.70 2160.2,1209.40 2165.0,1224.60 2167.8,1243.50 2170.1,1248.00 2173.5,1243.50 2176.3,1224.60 2179.1,1187.00 2181.5,1153.00 2183.9,1106.00 2187.7,1049.00 2190.5,992.40 2193.3,936.00 2196.2,903.50 2199.0,891.00 2200.9,890.40 2202.8,895.00 2205.6,917.00 2208.5,954.60 2211.3,988.00 2212.8,991.50 2215.1,973.50 2217.0,957.00 2218.5,955.50 2221.1,962.00 2223.6,992.40 2225.5,1030.00 2227.4,1068.00 2229.3,1096.40 2231.8,1128.00 2234.0,1149.00 2237.8,1168.00 2241.6,1196.00 2245.3,1224.60 2248.2,1230.00 2250.3,1215.00 2251.6,1160.00 2252.6,1106.00 2253.6,1078.00 2254.8,1071.00 2256.7,1087.00 2258.4,1132.00 2260.3,1164.00 2262.4,1196.00 2267.1,1194.30 2270.9,1215.00 2273.1,1220.60 2276.6,1205.70 2278.4,1168.00 2281.3,1144.50 2283.2,1147.00 2285.1,1177.00 2287.9,1224.60 2289.8,1262.40 2291.3,1267.00 2294.5,1239.70 2297.4,1262.40 2299.6,1270.00 2303.0,1245.40 2305.9,1264.30 2309.7,1258.60 2312.5,1252.90 2313.8,1205.70 2315.0,1158.40 2317.2,1133.50 2320.1,1152.00 2322.9,1150.00 2327.1,1172.50 2330.5,1140.00 2332.7,1124.00 2335.2,1143.70 2337.1,1140.00 2339.0,1106.00 2340.9,1068.00 2342.7,1053.00 2346.5,1051.00 2347.5,1011.00 2350.3,954.60 2352.8,907.00 2355.0,860.00 2356.0,842.00 2359.0,826.00 2361.0,780.00 2362.4,735.00 2363.5,701.00 2364.8,712.00 2366.0,729.00 2367.3,715.00 2368.3,698.00 2369.5,650.00 2371.0,590.00 2372.3,540.00 2373.6,524.00 2375.0,538.00 2376.5,580.00 2378.0,630.00 2379.5,680.00 2380.6,706.00 2382.5,685.00 2385.5,651.00 2387.9,680.00 2389.1,717.00 2389.9,760.00 2390.6,804.00 2391.7,856.00 2392.4,882.00 2393.4,856.00 2394.3,804.00 2394.9,770.00 2394.9,679.00" stroke="#0017c8" stroke-width="5.90" stroke-linecap="butt"/>
<g><path d="M1605.0 826.6 L1616.3 868.6 L1605.0 865.1 L1593.7 868.6 Z" fill="#000" stroke="#000" stroke-width="4" stroke-linejoin="round"/><path d="M1605.0 876.1V891.6M1605.0 901.6V917.1" stroke="#000" stroke-width="6" stroke-linecap="round" fill="none"/></g>
<g><path d="M2022.9 624.8 L2034.2 666.8 L2022.9 663.3 L2011.6 666.8 Z" fill="#000" stroke="#000" stroke-width="4" stroke-linejoin="round"/><path d="M2022.9 674.3V689.8M2022.9 699.8V715.3" stroke="#000" stroke-width="6" stroke-linecap="round" fill="none"/></g>
<g><path d="M2096.6 421.6 L2107.9 463.6 L2096.6 460.1 L2085.3 463.6 Z" fill="#000" stroke="#000" stroke-width="4" stroke-linejoin="round"/><path d="M2096.6 471.1V486.6M2096.6 496.6V512.1" stroke="#000" stroke-width="6" stroke-linecap="round" fill="none"/></g>
<g><path d="M2145.0 601.8 L2156.3 643.8 L2145.0 640.3 L2133.7 643.8 Z" fill="#000" stroke="#000" stroke-width="4" stroke-linejoin="round"/><path d="M2145.0 651.3V666.8M2145.0 676.8V692.3" stroke="#000" stroke-width="6" stroke-linecap="round" fill="none"/></g>
<g><path d="M2200.3 97.4 L2211.6 139.4 L2200.3 135.9 L2189.0 139.4 Z" fill="#000" stroke="#000" stroke-width="4" stroke-linejoin="round"/><path d="M2200.3 146.9V162.4M2200.3 172.4V187.9" stroke="#000" stroke-width="6" stroke-linecap="round" fill="none"/></g>
<text class="n" transform="translate(1621.9 811.6) rotate(-90)">1697</text>
<text class="n" transform="translate(2032.7 612.5) rotate(-90)">1060</text>
<text class="n" transform="translate(2114.7 392.5) rotate(-90)">956</text>
<text class="n" transform="translate(2158.8 566.3) rotate(-90)">877</text>
<text class="n" x="2164.3" y="80" letter-spacing="0.5">787</text>
</svg>
</body>
</html>
